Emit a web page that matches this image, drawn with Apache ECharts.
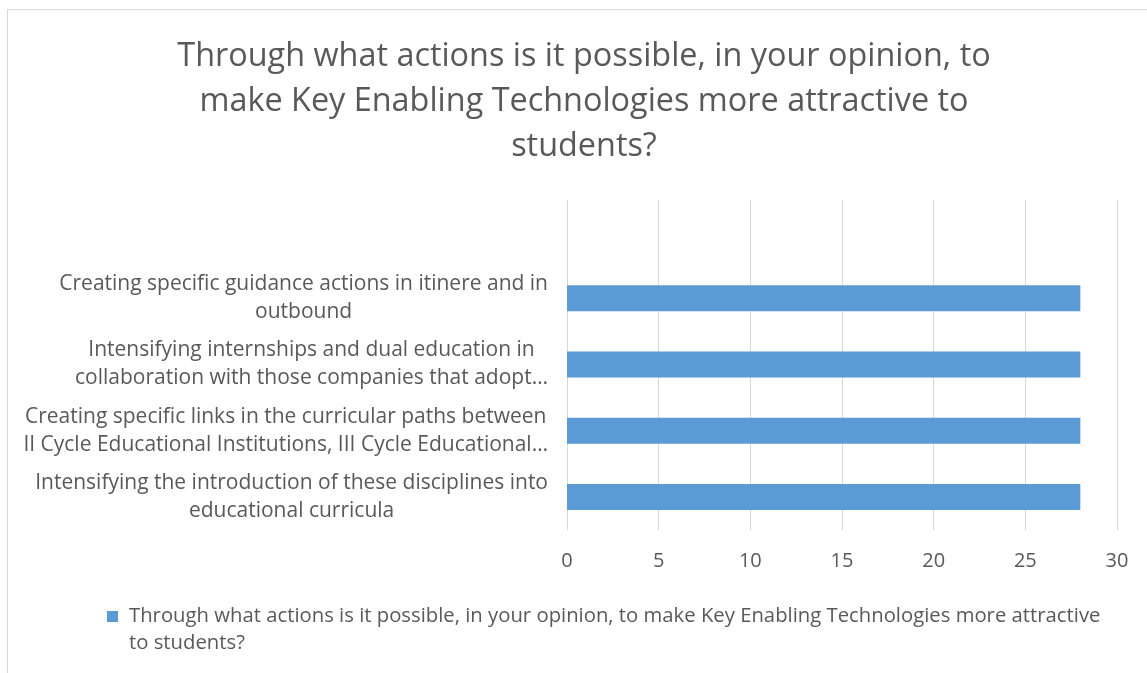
<!DOCTYPE html>
<html>
<head>
<meta charset="utf-8">
<script src="https://cdn.jsdelivr.net/npm/echarts@6/dist/echarts.min.js"></script>
<style>
  html, body { margin: 0; padding: 0; background: #fff; overflow: hidden; }
  #frame { position: absolute; left: 7px; top: 9px; width: 1200px; height: 700px; border: 1px solid #d9d9d9; box-sizing: border-box; }
  #chart { position: absolute; left: 0; top: 0; width: 1147px; height: 673px; }
</style>
</head>
<body>
<div id="frame"></div>
<div id="chart"></div>
<script>
// Survey question and answer options
const titleText = 'Through what actions is it possible, in your opinion, to\nmake Key Enabling Technologies more attractive to\nstudents?';
const seriesName = 'Through what actions is it possible, in your opinion, to make Key Enabling Technologies more attractive to students?';

const categories = [
  'Creating specific guidance actions in itinere and in\noutbound',
  'Intensifying internships and dual education in\ncollaboration with those companies that adopt…',
  'Creating specific links in the curricular paths between\nII Cycle Educational Institutions, III Cycle Educational…',
  'Intensifying the introduction of these disciplines into\neducational curricula'
];
const values = [28, 28, 28, 28];
const tickLabels = ['0', '5', '10', '15', '20', '25', '30'];

const textColor = '#595959';
const font = '"Open Sans", "Noto Sans", sans-serif';

// legend marker: a small square at the top-left of a wider, two-line-tall slot,
// so it lines up with the first line of the wrapped legend text
const legendIcon = 'path://M0 0H11V11H0Z M0 38L17 38';

const chart = echarts.init(document.getElementById('chart'));
chart.setOption({
  animation: false,
  textStyle: { fontFamily: font },
  title: {
    text: titleText,
    left: 579,
    top: 29,
    textAlign: 'center',
    textStyle: { fontFamily: font, fontSize: 32.4, fontWeight: 'normal', color: textColor, lineHeight: 45 }
  },
  legend: {
    left: 102,
    top: 598,
    itemWidth: 17,
    itemHeight: 38,
    itemGap: 0,
    icon: legendIcon,
    textStyle: {
      fontFamily: font, fontSize: 20.3, color: textColor, width: 985, overflow: 'break',
      lineHeight: 27
    },
    data: [seriesName]
  },
  grid: [
    { left: 567, right: 30, top: 200, bottom: 143 },
    { left: 567, right: 30, top: 265, bottom: 143 }
  ],
  xAxis: [
    {
      gridIndex: 0, type: 'value', min: 0, max: 30, interval: 5,
      axisLine: { show: false }, axisTick: { show: false },
      splitLine: { lineStyle: { color: '#d9d9d9', width: 1 } },
      axisLabel: {
        margin: 21, color: textColor, fontSize: 20, fontFamily: font,
        formatter: (v) => tickLabels[Math.round(v / 5)]
      }
    },
    {
      gridIndex: 1, type: 'value', min: 0, max: 30, interval: 5, show: false
    }
  ],
  yAxis: [
    { gridIndex: 0, type: 'category', data: [''], show: false },
    {
      gridIndex: 1, type: 'category', data: categories, inverse: true,
      axisLine: { show: false }, axisTick: { show: false },
      axisLabel: {
        align: 'right', margin: 19, color: textColor, fontSize: 21,
        fontFamily: font, lineHeight: 28,
        // each wrapped line is centred inside its label block
        formatter: (v) => v.split('\n').map((s) => '{c|' + s + '}').join('\n'),
        rich: {
          c: { align: 'center', color: textColor, fontSize: 21, fontFamily: font, lineHeight: 28 }
        }
      }
    }
  ],
  series: [
    {
      name: seriesName,
      type: 'bar',
      xAxisIndex: 1,
      yAxisIndex: 1,
      barWidth: 26,
      data: values,
      itemStyle: { color: '#5b9bd5' }
    }
  ]
});
</script>
</body>
</html>
